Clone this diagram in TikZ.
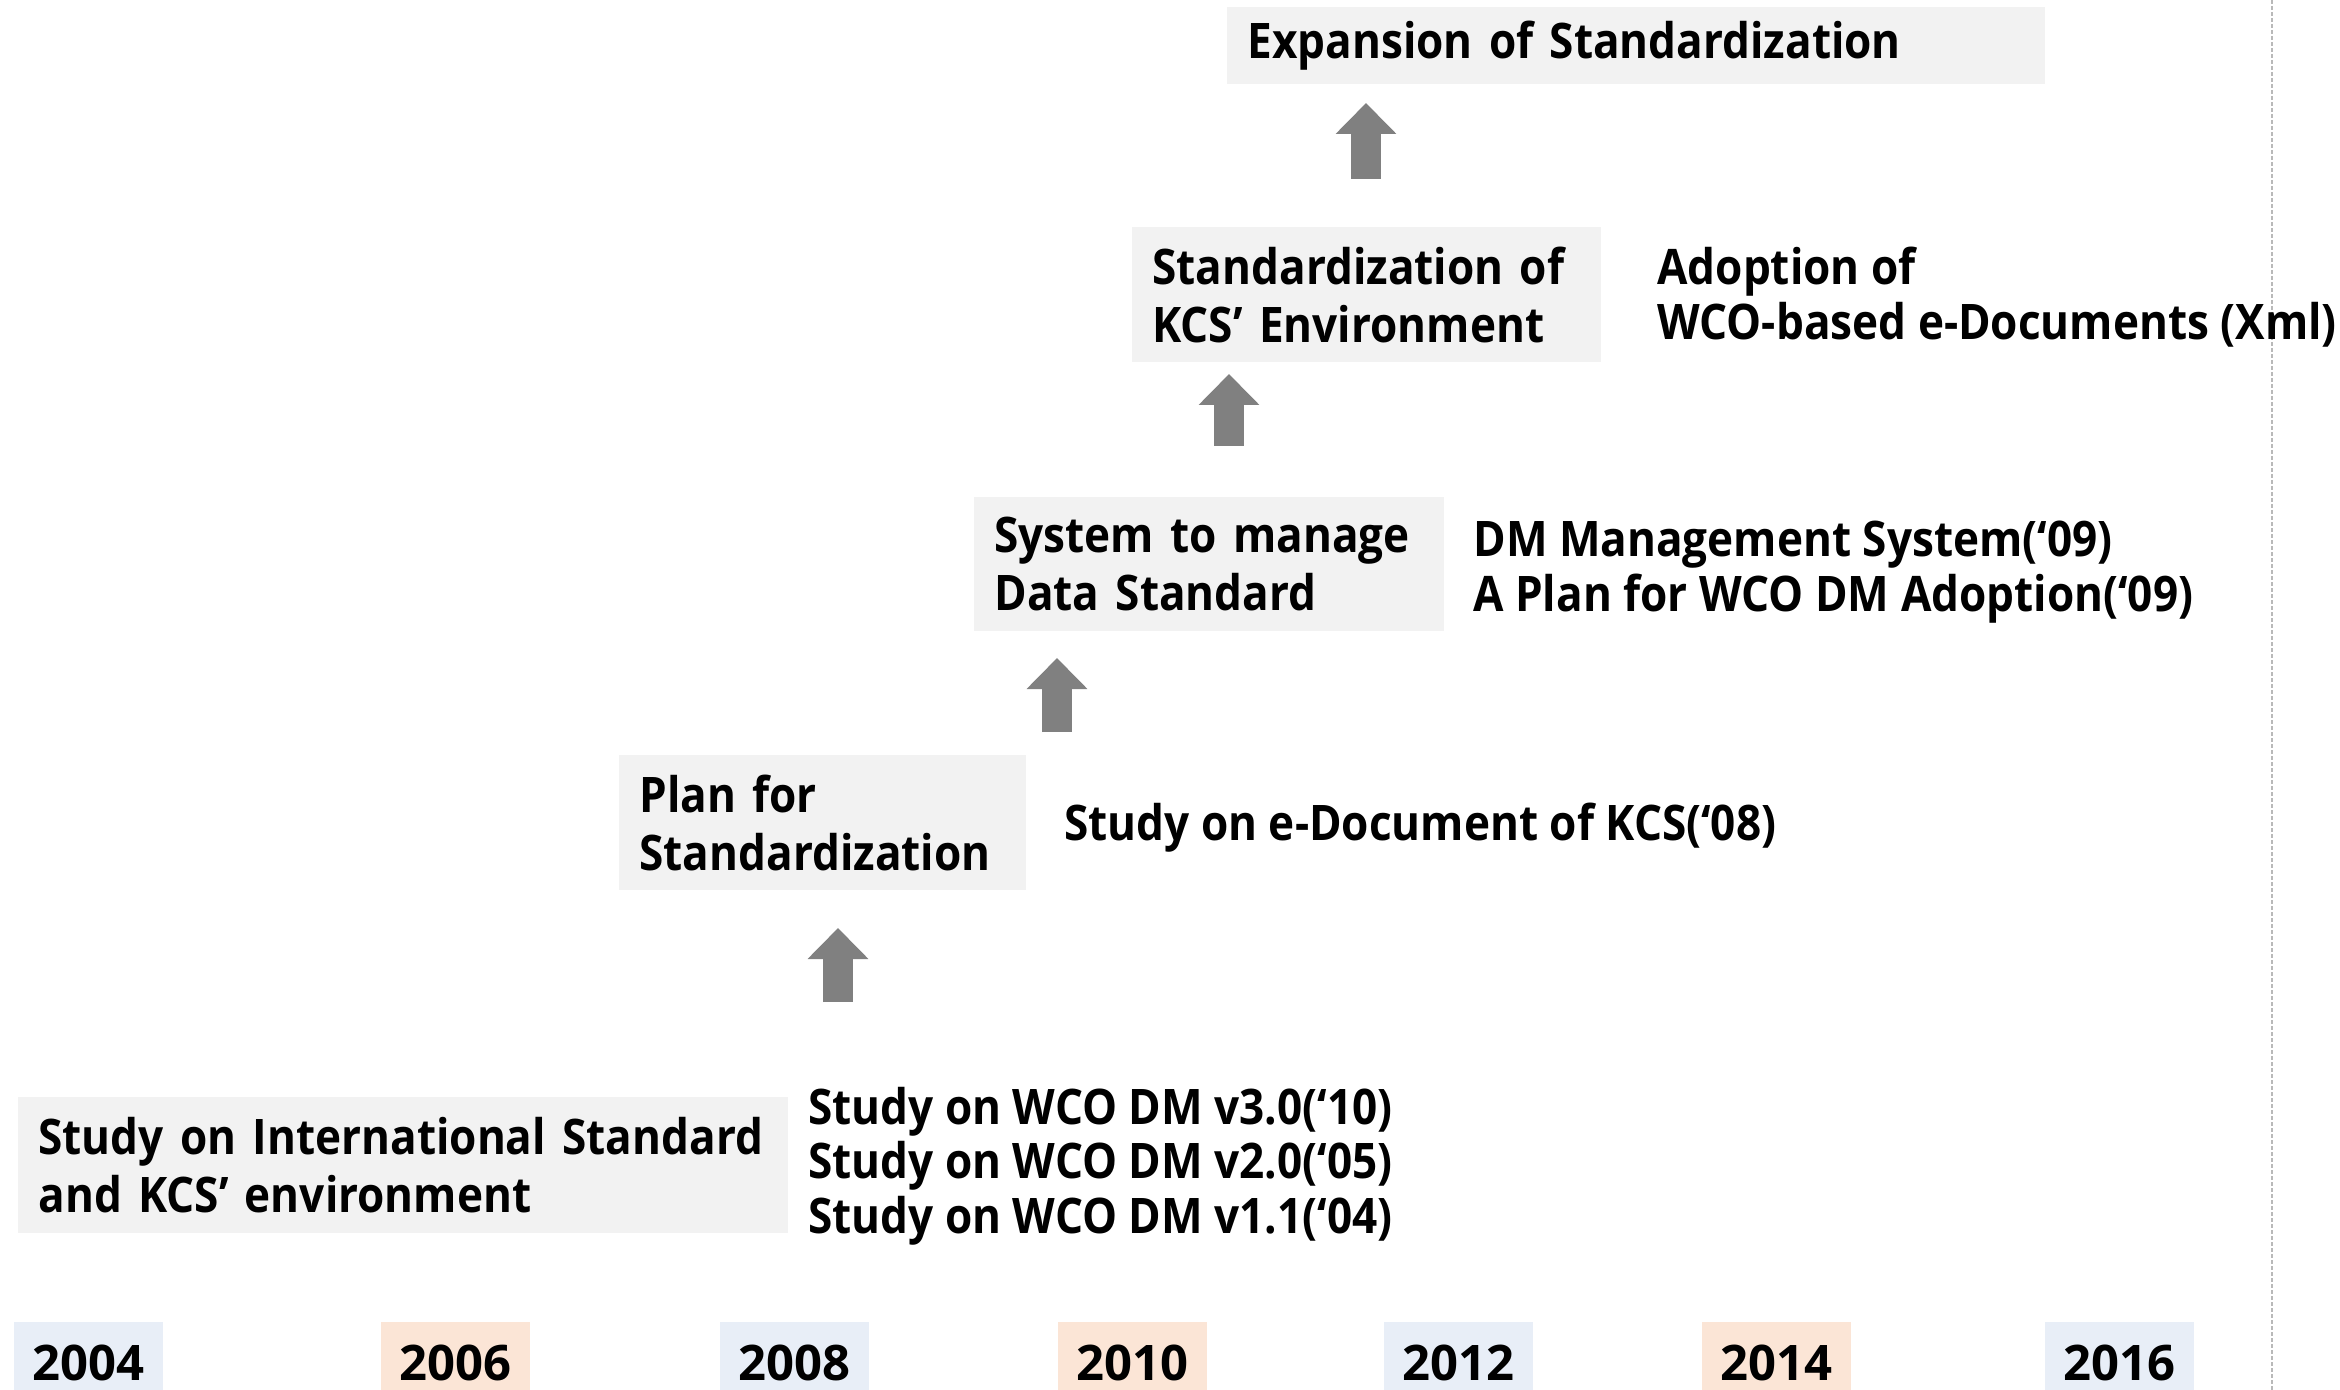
\documentclass[tikz,border=0pt]{standalone}
\usepackage{fontspec}
\setmainfont{Open Sans}[FakeStretch=0.90]
\newfontfamily\yearfamily{Open Sans}
\usetikzlibrary{arrows.meta}
\definecolor{boxgray}{HTML}{F2F2F2}
\definecolor{yrblue}{HTML}{E8EEF7}
\definecolor{yrpeach}{HTML}{FBE5D6}
\definecolor{arrgray}{HTML}{808080}
\newcommand\boxfnt{\bfseries\fontsize{24.5}{29}\selectfont}
\newcommand\notefnt{\bfseries\fontsize{24.5}{27.3}\selectfont}
\newcommand\yearfnt{\yearfamily\bfseries\fontsize{24.5}{29}\selectfont}
\newcommand\oneline[1]{\mbox{#1}}
\begin{document}
\begin{tikzpicture}[x=1pt,y=-1pt,
  stagebox/.style={fill=boxgray, anchor=west, align=left, inner xsep=10pt, inner ysep=0pt, font=\boxfnt},
  note/.style={anchor=west, align=left, inner sep=0pt, font=\notefnt},
  yearbox/.style={minimum width=74.5pt, minimum height=34pt, inner sep=0pt, anchor=north west},
  yeartext/.style={anchor=base, inner sep=0pt, font=\yearfnt},
  blockarrow/.style={draw=arrgray, line width=15pt, -{Triangle[width=29.5pt,length=15.5pt]}, arrgray}
]
\useasboundingbox (0,0) rectangle (1170,695);
% dashed separator
\coordinate (dtop) at (1136,0);
\coordinate (dbot) at (1136,695);
\draw[gray!55, line width=0.6pt, dash pattern=on 2pt off 1pt] (dtop) -- (dbot);

% stage boxes
\node[stagebox, text width=389pt, minimum height=38.5pt] (exp) at (613.5,22.75) {\oneline{Expansion of Standardization}};
\node[stagebox, text width=214.5pt, minimum height=67.5pt] (kcs) at (566,147.25) {\oneline{Standardization of}\\\oneline{KCS’ Environment}};
\node[stagebox, text width=215pt, minimum height=67pt] (sys) at (487,282) {\oneline{System to manage}\\\oneline{Data Standard}};
\node[stagebox, text width=183.5pt, minimum height=67.5pt] (plan) at (309.5,411.25) {\oneline{Plan for}\\\oneline{Standardization}};
\node[stagebox, text width=365pt, minimum height=68pt] (intl) at (9,582.5) {\oneline{Study on International Standard}\\\oneline{and KCS’ environment}};

% side notes
\node[note] (adopt) at (828.5,148.5) {Adoption of\\WCO-based e-Documents (Xml)};
\node[note] (dm) at (736.5,286) {DM Management System(‘09)\\A Plan for WCO DM Adoption(‘09)};
\node[note] (edoc) at (532,414) {Study on e-Document of KCS(‘08)};
\node[note] (wco) at (404,583) {Study on WCO DM v3.0(‘10)\\Study on WCO DM v2.0(‘05)\\Study on WCO DM v1.1(‘04)};

% block arrows
\coordinate (a1s) at (683,89.5);   \coordinate (a1e) at (683,51.5);
\coordinate (a2s) at (614.5,223);  \coordinate (a2e) at (614.5,187);
\coordinate (a3s) at (528.5,366);  \coordinate (a3e) at (528.5,329);
\coordinate (a4s) at (419,501);    \coordinate (a4e) at (419,464);
\draw[blockarrow] (a1s) -- (a1e);
\draw[blockarrow] (a2s) -- (a2e);
\draw[blockarrow] (a3s) -- (a3e);
\draw[blockarrow] (a4s) -- (a4e);

% year boxes
\node[yearbox, fill=yrblue]  (y04) at (7,661)  {};
\node[yearbox, fill=yrpeach] (y06) at (190.5,661) {};
\node[yearbox, fill=yrblue]  (y08) at (360,661)  {};
\node[yearbox, fill=yrpeach] (y10) at (529,661)  {};
\node[yearbox, fill=yrblue]  (y12) at (692,661)  {};
\node[yearbox, fill=yrpeach] (y14) at (851,661)  {};
\node[yearbox, fill=yrblue]  (y16) at (1022.5,661) {};
\foreach \n/\t in {y04/2004,y06/2006,y08/2008,y10/2010,y12/2012,y14/2014,y16/2016}
  \node[yeartext] (t\n) at ([yshift=-12pt]\n.center) {\t};
\end{tikzpicture}
\end{document}
